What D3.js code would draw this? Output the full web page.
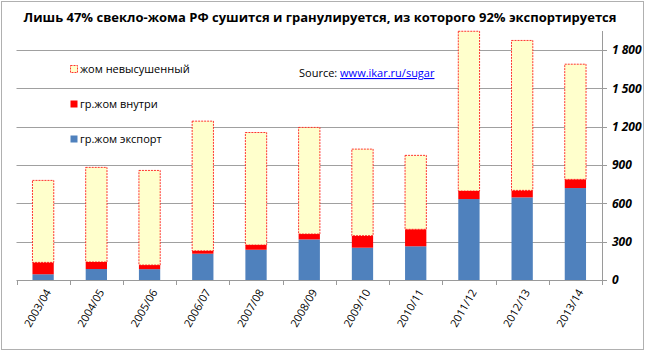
<!DOCTYPE html>
<html>
<head>
<meta charset="utf-8">
<script src="https://cdn.jsdelivr.net/npm/d3@7"></script>
<style>
  body { margin: 0; background: #fff; }
  svg text { font-family: "Open Sans", "Liberation Sans", sans-serif; }
</style>
</head>
<body>
<div id="chart"></div>
<script>
// seasons and values (thousand tonnes)
const seasons = ["2003/04", "2004/05", "2005/06", "2006/07", "2007/08", "2008/09",
                 "2009/10", "2010/11", "2011/12", "2012/13", "2013/14"];
const exportPulp = [45, 86, 85, 206, 237, 318, 253, 264, 634, 647, 720];
const domesticPulp = [93, 55, 32, 23, 37, 42, 94, 133, 63, 55, 68];
const wetPulp = [642, 741, 741, 1015, 881, 835, 678, 579, 1251, 1174, 902];
const yTicks = [0, 300, 600, 900, 1200, 1500, 1800];
const seriesNames = ["гр.жом экспорт", "гр.жом внутри", "жом невысушенный"];

const width = 646, height = 352;
const plotLeft = 16.5, plotRight = 602, plotTop = 31, plotBottom = 280;

const svg = d3.select("#chart").append("svg")
    .attr("width", width)
    .attr("height", height);

// outer frame
svg.append("rect")
    .attr("x", 1.5).attr("y", 1.5)
    .attr("width", width - 4).attr("height", height - 4)
    .attr("fill", "#fff")
    .attr("stroke", "#b0b0b0");

const x = d3.scaleBand()
    .domain(seasons)
    .range([plotLeft, plotRight])
    .paddingInner(0.6)
    .paddingOuter(0.3);

const y = d3.scaleLinear()
    .domain([0, 1950])
    .range([plotBottom, plotTop]);

// grid lines
svg.append("g").selectAll("line")
    .data(yTicks.slice(1))
    .enter().append("line")
    .attr("x1", plotLeft).attr("x2", plotRight)
    .attr("y1", d => Math.round(y(d)) + 0.5)
    .attr("y2", d => Math.round(y(d)) + 0.5)
    .attr("stroke", "#a0a0a0");

// stacked bars
const table = seasons.map((s, i) => ({
    season: s, exp: exportPulp[i], dom: domesticPulp[i], wet: wetPulp[i]
}));
const stack = d3.stack().keys(["exp", "dom", "wet"])(table);
const fills = ["#4f81bd", "#ff0000", "#ffffcc"];

stack.forEach((layer, k) => {
    svg.append("g").selectAll("rect")
        .data(layer)
        .enter().append("rect")
        .attr("x", d => x(d.data.season))
        .attr("width", x.bandwidth())
        .attr("y", d => y(d[1]))
        .attr("height", d => y(d[0]) - y(d[1]))
        .attr("fill", fills[k])
        .attr("stroke", k === 2 ? "#ff0000" : "none")
        .attr("stroke-width", 0.8)
        .attr("stroke-dasharray", k === 2 ? "2,1" : null);
});

// x axis baseline and ticks
const step = x.step();
const boundaries = d3.range(seasons.length + 1).map(i => plotLeft + i * step);
svg.append("line")
    .attr("x1", plotLeft).attr("x2", plotRight + 4)
    .attr("y1", plotBottom + 0.5).attr("y2", plotBottom + 0.5)
    .attr("stroke", "#9a9a9a");
svg.append("g").selectAll("line")
    .data(boundaries)
    .enter().append("line")
    .attr("x1", d => Math.round(d) + 0.5).attr("x2", d => Math.round(d) + 0.5)
    .attr("y1", plotBottom).attr("y2", plotBottom + 5)
    .attr("stroke", "#9a9a9a");

svg.append("g").selectAll("text")
    .data(seasons)
    .enter().append("text")
    .attr("transform", d => `translate(${x(d) + x.bandwidth() / 2 + 5},${plotBottom + 10}) rotate(-60)`)
    .attr("text-anchor", "end")
    .attr("dy", "0.35em")
    .attr("font-size", 11)
    .attr("fill", "#000")
    .text(d => d);

// right value axis
svg.append("line")
    .attr("x1", plotRight + 0.5).attr("x2", plotRight + 0.5)
    .attr("y1", plotTop).attr("y2", plotBottom)
    .attr("stroke", "#9a9a9a");
svg.append("g").selectAll("line")
    .data(yTicks)
    .enter().append("line")
    .attr("x1", plotRight).attr("x2", plotRight + 5)
    .attr("y1", d => Math.round(y(d)) + 0.5)
    .attr("y2", d => Math.round(y(d)) + 0.5)
    .attr("stroke", "#9a9a9a");
svg.append("g").selectAll("text")
    .data(yTicks)
    .enter().append("text")
    .attr("x", 612)
    .attr("y", d => y(d))
    .attr("dy", "0.35em")
    .attr("font-size", 12)
    .attr("font-weight", "bold")
    .attr("font-style", "italic")
    .text(d => d3.format(",")(d).replace(",", " "));

// title
svg.append("text")
    .attr("x", 320).attr("y", 22)
    .attr("text-anchor", "middle")
    .attr("font-size", 13)
    .attr("font-weight", "bold")
    .text("Лишь 47% свекло-жома РФ сушится и гранулируется, из которого 92% экспортируется");

// legend (top to bottom: wet, domestic, export)
const legendY = [69, 104, 139];
const legendItems = [2, 1, 0];
const legend = svg.append("g");
legendItems.forEach((k, i) => {
    legend.append("rect")
        .attr("x", 70.5).attr("y", legendY[i] - 3.5)
        .attr("width", 7).attr("height", 7)
        .attr("fill", fills[k])
        .attr("stroke", k === 2 ? "#ff0000" : "none")
        .attr("stroke-width", 0.8)
        .attr("stroke-dasharray", k === 2 ? "2,1" : null);
    legend.append("text")
        .attr("x", 80).attr("y", legendY[i])
        .attr("dy", "0.35em")
        .attr("font-size", 11)
        .text(seriesNames[k]);
});

// source note
const source = svg.append("text")
    .attr("x", 299).attr("y", 77)
    .attr("font-size", 11);
source.append("tspan").text("Source: ");
source.append("tspan")
    .attr("fill", "#0000ff")
    .attr("text-decoration", "underline")
    .text("www.ikar.ru/sugar");
</script>
</body>
</html>
